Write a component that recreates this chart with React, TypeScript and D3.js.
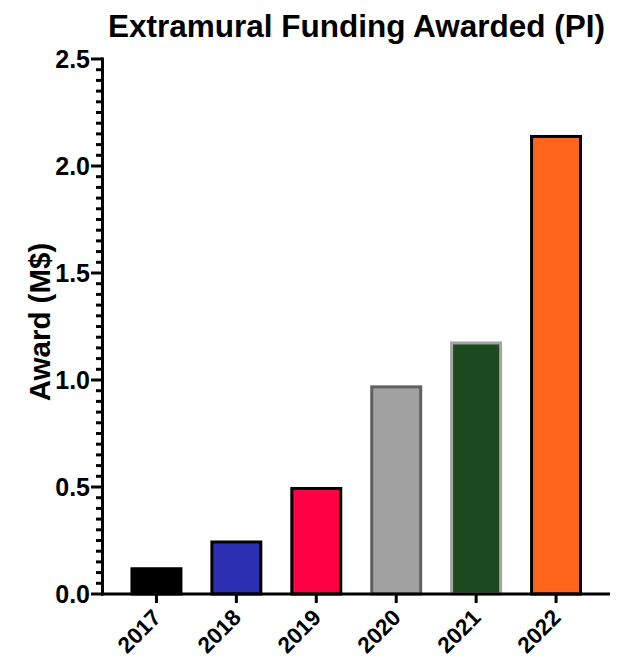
import * as d3 from "d3";

// Data
const years = ["2017", "2018", "2019", "2020", "2021", "2022"];
const awards = [0.125, 0.25, 0.5, 0.975, 1.18, 2.145];
const fills = ["#000000", "#2b2fb1", "#ff0044", "#a1a1a1", "#1a4a1e", "#ff661c"];
const strokes = ["#000000", "#000000", "#000000", "#606060", "#a3a3a3", "#000000"];
const yMajorTicks = [0, 0.5, 1.0, 1.5, 2.0, 2.5];

const W = 633;
const H = 659;
const MARGIN = { top: 59, right: 23, bottom: 65, left: 102.5 };
const FONT = "'Liberation Sans', Arial, Helvetica, sans-serif";

export default function App() {
  const innerW = W - MARGIN.left - MARGIN.right;
  const innerH = H - MARGIN.top - MARGIN.bottom;

  const x = d3.scaleBand().domain(years).range([0, innerW]).paddingInner(0.35).paddingOuter(0.35);
  const y = d3.scaleLinear().domain([0, 2.5]).range([innerH, 0]);

  const minorTicks = d3.range(0, 51).map((i) => i * 0.05).filter((_, i) => i % 10 !== 0);

  return (
    <svg
      width={W}
      height={H}
      style={{ position: "absolute", left: 0, top: 0, background: "#fff" }}
      fontFamily={FONT}
    >
      <text x={356.5} y={36.5} textAnchor="middle" fontSize={31.5} fontWeight={700} fill="#000">
        Extramural Funding Awarded (PI)
      </text>
      <text
        transform={`translate(49.5,322) rotate(-90)`}
        textAnchor="middle"
        fontSize={29.5}
        fontWeight={700}
        fill="#000"
      >
        Award (M$)
      </text>
      <g transform={`translate(${MARGIN.left},${MARGIN.top})`}>
        {/* Bars */}
        {years.map((yr, i) => {
          const top = y(awards[i]);
          return (
            <rect
              key={yr}
              x={x(yr)! + 1.5}
              y={top + 1.5}
              width={x.bandwidth() - 3}
              height={innerH - top - 1.5}
              fill={fills[i]}
              stroke={strokes[i]}
              strokeWidth={3}
            />
          );
        })}

        {/* Y axis */}
        <line x1={0} x2={0} y1={-1.5} y2={innerH + 1.5} stroke="#000" strokeWidth={3} />
        {minorTicks.map((t) => (
          <line key={`m${t}`} x1={-6.5} x2={0} y1={y(t)} y2={y(t)} stroke="#000" strokeWidth={3} />
        ))}
        {yMajorTicks.map((t) => (
          <g key={t} transform={`translate(0,${y(t)})`}>
            <line x1={-11.5} x2={0} stroke="#000" strokeWidth={3} />
            <text x={-12.5} dy="0.36em" textAnchor="end" fontSize={25} fontWeight={700} fill="#000">
              {t.toFixed(1)}
            </text>
          </g>
        ))}

        {/* X axis */}
        <line x1={-1.5} x2={innerW} y1={innerH} y2={innerH} stroke="#000" strokeWidth={3} />
        {years.map((yr) => {
          const cx = x(yr)! + x.bandwidth() / 2;
          return (
            <g key={yr} transform={`translate(${cx},${innerH})`}>
              <line y1={0} y2={9} stroke="#000" strokeWidth={3} />
              <text
                transform="translate(6,25) rotate(-45)"
                textAnchor="end"
                fontSize={22.5}
                fontWeight={700}
                fill="#000"
              >
                {yr}
              </text>
            </g>
          );
        })}
      </g>
    </svg>
  );
}
